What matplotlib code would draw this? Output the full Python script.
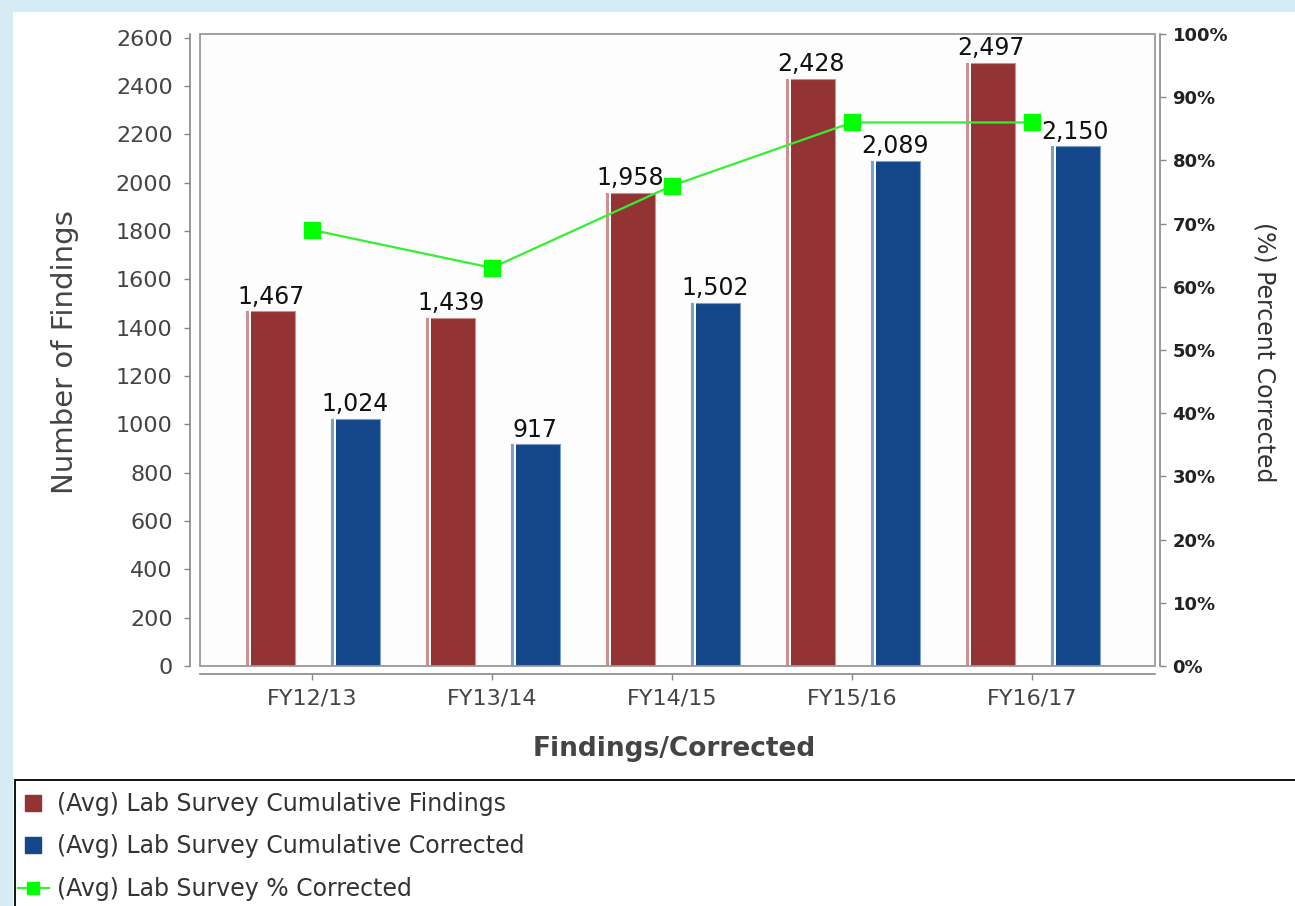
import matplotlib
matplotlib.use("Agg")
import matplotlib.pyplot as plt
import numpy as np
from matplotlib.patches import Rectangle
from matplotlib.lines import Line2D

categories = ["FY12/13", "FY13/14", "FY14/15", "FY15/16", "FY16/17"]
findings = [1467, 1439, 1958, 2428, 2497]
corrected = [1024, 917, 1502, 2089, 2150]
pct_corrected = [69, 63, 76, 86, 86]
left_ticks = list(range(0, 2601, 200))
right_ticks = list(range(0, 101, 10))
legend_labels = ["(Avg) Lab Survey Cumulative Findings",
                 "(Avg) Lab Survey Cumulative Corrected",
                 "(Avg) Lab Survey % Corrected"]

RED = "#943333"
RED_L = "#cf9090"
BLUE = "#14468a"
BLUE_L = "#7d9fd0"
GREEN = "#00ff00"
GREEN_LINE = "#33f033"

W, H = 1295, 906
fig = plt.figure(figsize=(W / 100, H / 100), dpi=100)
fig.patch.set_facecolor("#d5ecf4")
fig.add_artist(Rectangle((13 / W, 0), 1, 1 - 12 / H, transform=fig.transFigure,
                         facecolor="white", edgecolor="none", zorder=-10))

ax = fig.add_axes([200 / W, 1 - 666 / H, 955 / W, 632 / H])
ax.set_facecolor("#fdfdfd")
ax.add_patch(Rectangle((0, 0), 1, 1, transform=ax.transAxes, fill=False,
                       edgecolor="#999999", linewidth=1.3, zorder=5, clip_on=False))

x = np.arange(len(categories))
px = 1 / 180.0
bw = 0.27
off_r, off_b = -0.23, 0.24

for off, vals, main, light in [(off_r, findings, RED, RED_L), (off_b, corrected, BLUE, BLUE_L)]:
    xs = x + off
    ax.bar(xs, vals, width=bw, color=main, edgecolor=light, linewidth=0.8, zorder=2)
    left = xs - bw / 2
    ax.bar(left, vals, width=5 * px, align="edge", color="white", linewidth=0, zorder=3)
    ax.bar(left, vals, width=3 * px, align="edge", color=light, linewidth=0, zorder=4)
    for xi, v in zip(xs, vals):
        ax.annotate(f"{v:,}", (xi, v), xytext=(0, 2), textcoords="offset points",
                    ha="center", va="bottom", fontsize=17, color="#111111", zorder=6)

ax.set_xlim(-112 / 180, (1155 - 312) / 180)
ax.set_ylim(0, 2615)
ax.set_xticks(x)
ax.set_xticklabels(categories)
ax.set_yticks(left_ticks)
ax.set_yticklabels([str(t) for t in left_ticks])

for s in ["top", "right"]:
    ax.spines[s].set_visible(False)
ax.spines["left"].set_position(("outward", 7.2))
ax.spines["bottom"].set_position(("outward", 5.8))
for s in ["left", "bottom"]:
    ax.spines[s].set_color("#888888")
    ax.spines[s].set_linewidth(1.2)
ax.tick_params(axis="y", direction="out", length=4.5, width=1, color="#888888",
               labelsize=16, labelcolor="#444444", pad=8)
ax.tick_params(axis="x", direction="out", length=4.5, width=1, color="#888888",
               labelsize=16, labelcolor="#444444", pad=6)

ax.set_ylabel("Number of Findings", fontsize=21, color="#444444")
ax.yaxis.set_label_coords(-0.127, 0.497)
ax.set_xlabel("Findings/Corrected", fontsize=19, fontweight="bold", color="#444444")
ax.xaxis.set_label_coords(0.497, -0.11)

ax2 = ax.twinx()
ax2.plot(x, pct_corrected, color=GREEN_LINE, linewidth=1.6, marker="s",
         markersize=12, markerfacecolor=GREEN, markeredgecolor=GREEN, zorder=7)
ax2.set_ylim(0, 100)
ax2.set_yticks(right_ticks)
ax2.set_yticklabels([f"{t}%" for t in right_ticks])
for s in ["top", "left", "bottom"]:
    ax2.spines[s].set_visible(False)
ax2.spines["right"].set_position(("outward", 3.6))
ax2.spines["right"].set_color("#888888")
ax2.spines["right"].set_linewidth(1.2)
ax2.tick_params(axis="y", direction="out", length=4, width=1, color="#888888",
                labelsize=13, labelcolor="#222222", pad=5)
for lbl in ax2.get_yticklabels():
    lbl.set_fontweight("bold")
ax2.set_ylabel("(%) Percent Corrected", fontsize=17, color="#333333", rotation=270,
               va="center")
ax2.yaxis.set_label_coords(1.115, 0.497)

# legend box
fig.add_artist(Rectangle((15 / W, -0.05), 1.0, 1 - 780 / H + 0.05,
                         transform=fig.transFigure, fill=False,
                         edgecolor="black", linewidth=1.3, zorder=1))
handles = [
    Line2D([], [], linestyle="none", marker="s", markersize=12,
           markerfacecolor=RED, markeredgecolor=RED),
    Line2D([], [], linestyle="none", marker="s", markersize=12,
           markerfacecolor=BLUE, markeredgecolor=BLUE),
    Line2D([], [], color=GREEN_LINE, linewidth=1.6, marker="s", markersize=9,
           markerfacecolor=GREEN, markeredgecolor=GREEN),
]
leg = fig.legend(handles, legend_labels, loc="upper left",
                 bbox_to_anchor=(18 / W, 1 - 792 / H), frameon=False,
                 fontsize=17, handlelength=1.3, handletextpad=0.35,
                 labelspacing=0.78, borderpad=0, borderaxespad=0)
for t in leg.get_texts():
    t.set_color("#333333")

fig.savefig("out.png", dpi=100, facecolor=fig.get_facecolor())
